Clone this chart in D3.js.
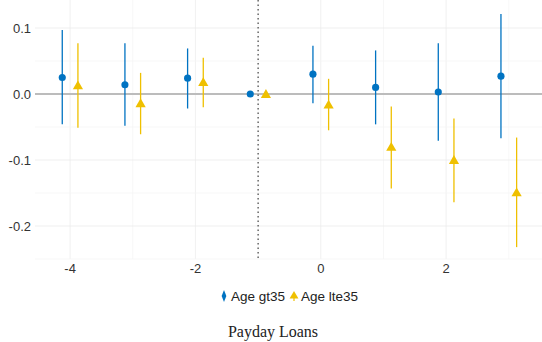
<!DOCTYPE html>
<html>
<head>
<meta charset="utf-8">
<script src="https://d3js.org/d3.v7.min.js"></script>
<style>
  body { margin: 0; background: #fff; }
  svg text { font-family: "Liberation Sans", Arial, sans-serif; }
</style>
</head>
<body>
<div id="chart"></div>
<script>
// event time and estimates
const periods = [-4, -3, -2, -1, 0, 1, 2, 3];
const gt35Est = [0.025, 0.014, 0.024, 0, 0.030, 0.010, 0.003, 0.027];
const gt35Lo  = [-0.046, -0.048, -0.022, 0, -0.014, -0.046, -0.071, -0.067];
const gt35Hi  = [0.097, 0.077, 0.069, 0, 0.073, 0.066, 0.077, 0.121];
const lteEst  = [0.013, -0.014, 0.018, 0, -0.016, -0.080, -0.100, -0.149];
const lteLo   = [-0.051, -0.061, -0.020, 0, -0.055, -0.143, -0.164, -0.232];
const lteHi   = [0.077, 0.032, 0.055, 0, 0.023, -0.019, -0.037, -0.066];
const xTicks = [-4, -2, 0, 2];
const yTicks = [0.1, 0.0, -0.1, -0.2];

const W = 542, H = 342;
const margin = {top: 0, right: 0, bottom: 83, left: 35};

const svg = d3.select("#chart").append("svg")
    .attr("width", W).attr("height", H);

const x = d3.scaleLinear().domain([-4.56, 3.53]).range([margin.left, W - margin.right]);
const y = d3.scaleLinear().domain([-0.25, 0.1424]).range([H - margin.bottom, margin.top]);

const blue = "#0073C2", yellow = "#EFC000";
const dodge = 0.125;
const fmt = d => d3.format(".1f")(d).replace("\u2212", "-");

// grid
const g = svg.append("g");
g.selectAll(".vminor").data(d3.range(-4, 4)).join("line")
    .attr("x1", d => x(d)).attr("x2", d => x(d))
    .attr("y1", y.range()[1]).attr("y2", y.range()[0])
    .attr("stroke", d => d % 2 === 0 ? "#ececec" : "#f5f5f5").attr("stroke-width", 0.8);
g.selectAll(".hgrid").data([0.1, 0.05, -0.05, -0.1, -0.15, -0.2, -0.25]).join("line")
    .attr("x1", x.range()[0]).attr("x2", x.range()[1])
    .attr("y1", d => y(d)).attr("y2", d => y(d))
    .attr("stroke", d => Math.abs(d * 20) % 2 === 0 ? "#ececec" : "#f5f5f5").attr("stroke-width", 0.8);

// zero reference line
svg.append("line")
    .attr("x1", x.range()[0]).attr("x2", x.range()[1])
    .attr("y1", y(0)).attr("y2", y(0))
    .attr("stroke", "#bcbcbc").attr("stroke-width", 2);

// event line at -1
svg.append("line")
    .attr("x1", x(-1)).attr("x2", x(-1))
    .attr("y1", y.range()[1]).attr("y2", y.range()[0])
    .attr("stroke", "#333").attr("stroke-width", 1.1)
    .attr("stroke-dasharray", "1.5,3");

const series = [
  {name: "Age gt35", color: blue, est: gt35Est, lo: gt35Lo, hi: gt35Hi, off: -dodge, shape: d3.symbolCircle, size: 40},
  {name: "Age lte35", color: yellow, est: lteEst, lo: lteLo, hi: lteHi, off: dodge, shape: d3.symbolTriangle, size: 45}
];

series.forEach(s => {
  const rows = periods.map((p, i) => ({p, est: s.est[i], lo: s.lo[i], hi: s.hi[i]}));
  svg.append("g").selectAll("line").data(rows.filter(r => r.hi !== r.lo)).join("line")
      .attr("x1", d => x(d.p + s.off)).attr("x2", d => x(d.p + s.off))
      .attr("y1", d => y(d.lo)).attr("y2", d => y(d.hi))
      .attr("stroke", s.color).attr("stroke-width", 1.3);
  svg.append("g").selectAll("path").data(rows).join("path")
      .attr("d", d3.symbol().type(s.shape).size(s.size))
      .attr("transform", d => `translate(${x(d.p + s.off)},${y(d.est) + (s.shape === d3.symbolTriangle ? 1 : 0)})`)
      .attr("fill", s.color);
});

// axis labels
svg.append("g").selectAll("text").data(yTicks).join("text")
    .attr("x", 31).attr("y", d => y(d)).attr("dy", "0.35em")
    .attr("text-anchor", "end").attr("font-size", 13).attr("fill", "#333")
    .text(fmt);
svg.append("g").selectAll("text").data(xTicks).join("text")
    .attr("x", d => x(d)).attr("y", 273)
    .attr("text-anchor", "middle").attr("font-size", 13).attr("fill", "#333")
    .text(d => String(d));

// legend
const leg = svg.append("g");
leg.append("path").attr("d", d3.symbol().type(d3.symbolDiamond).size(30))
    .attr("transform", "translate(224,296) scale(0.8,1.2)").attr("fill", blue);
leg.append("text").attr("x", 231).attr("y", 301).attr("font-size", 13.5).attr("fill", "#222").text("Age gt35");
leg.append("path").attr("d", d3.symbol().type(d3.symbolTriangle).size(34))
    .attr("transform", "translate(294,296)").attr("fill", yellow);
leg.append("path").attr("d", "M-0.6,0 L0.6,0 L0.6,6 L-0.6,6 Z")
    .attr("transform", "translate(294,295)").attr("fill", yellow);
leg.append("text").attr("x", 301).attr("y", 301).attr("font-size", 13.5).attr("fill", "#222").text("Age lte35");

// caption
svg.append("text").attr("x", 273).attr("y", 337)
    .attr("text-anchor", "middle").attr("font-size", 16)
    .style("font-family", "'Liberation Serif', 'Times New Roman', serif")
    .attr("fill", "#222").text("Payday Loans");
</script>
</body>
</html>
